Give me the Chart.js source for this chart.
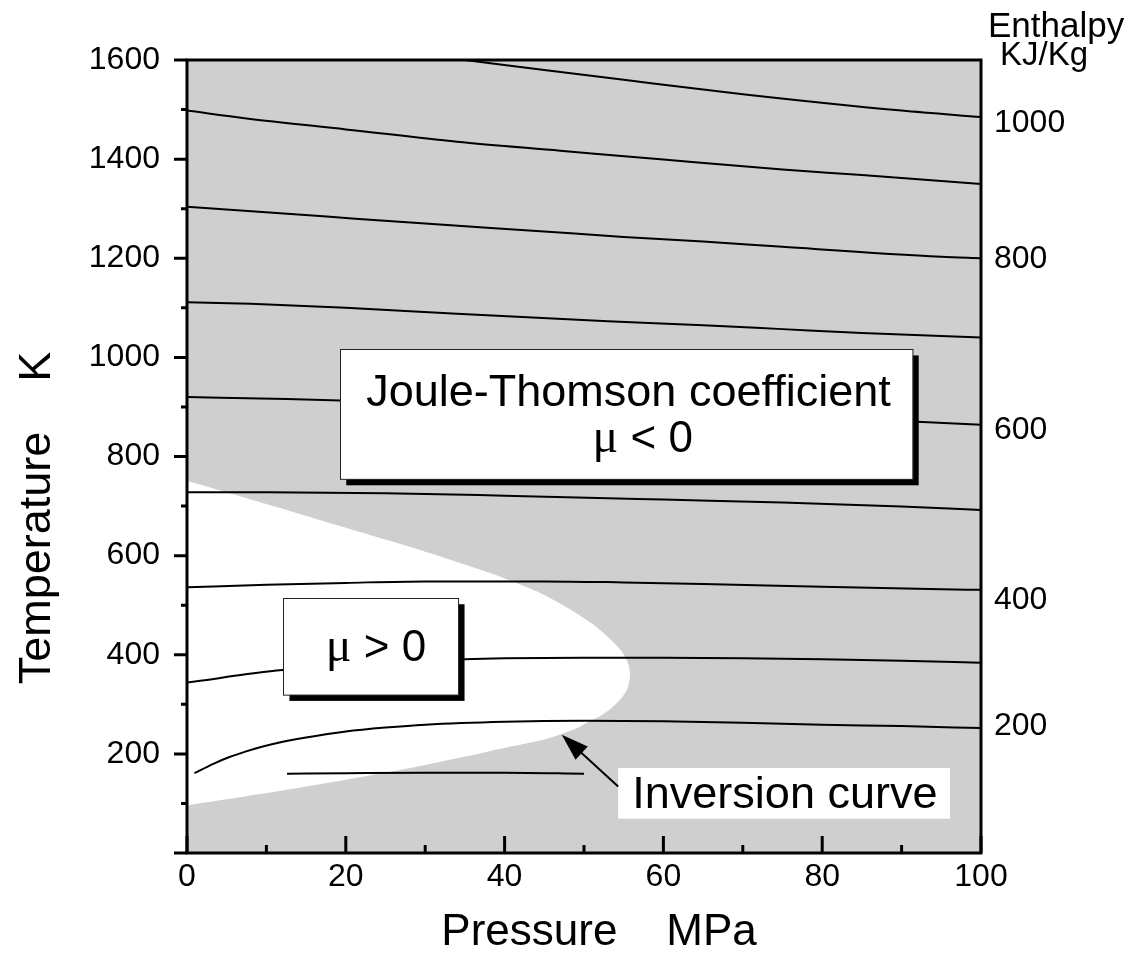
<!DOCTYPE html>
<html>
<head>
<meta charset="utf-8">
<script src="https://cdn.jsdelivr.net/npm/chart.js@4.4.1/dist/chart.umd.min.js"></script>
<style>
html,body{margin:0;padding:0;background:#fff}
#c{display:block}
</style>
</head>
<body>
<canvas id="c" width="1133" height="953"></canvas>
<script>
/* ── data ───────────────────────────────────── */
const FONT="'Liberation Sans', Arial, Helvetica, sans-serif";
const GREY='#cfcfcf';

const pressureRange=[0,100];
const tempRange=[0,1600];

// isenthalps [pressure MPa, temperature K]
const h100=[[12.6,160],[20,161],[30,162],[40,162],[50,160]];
const h200=[[0.94,161],[3.25,179.5],[5.35,193.6],[7.45,205],[9.55,215],[11.65,223],[15,233],[20,245],[25,253],[30,259],[40,265],[50,267],[60,266],[70,263],[80,259],[90,256],[100,252]];
const h300=[[0,344],[12,369],[25,383],[35,391],[40,393],[50,394],[60,394],[70,393],[80,391],[90,388],[100,384]];
const h400=[[0,536],[10,541],[20,545],[30,548],[45,548],[55,546],[65,543],[80,537],[95,532],[100,531]];
const h500=[[0,728],[10,728],[25,726],[40,721],[53,716],[60,713],[75,707],[90,699],[100,692]];
const h600=[[0,920],[12.6,916],[19.3,913],[40,900],[60,888],[80,876],[92,870],[100,864]];
const h700=[[0,1111],[8,1108],[20,1100],[34,1088],[53,1073],[65,1065],[75,1057],[85,1049],[100,1040]];
const h800=[[0,1304],[17.6,1284],[30,1270],[45,1254],[55,1243],[65,1234],[75,1223],[95,1203],[100,1200]];
const h900=[[0,1498],[7.5,1482],[20,1460],[34,1435],[47,1417],[60,1399],[75,1379],[85,1368],[100,1350]];
const h1000=[[35,1600],[45,1580],[55,1560],[70,1531],[90,1498],[100,1485]];

const isenthalps=[h100,h200,h300,h400,h500,h600,h700,h800,h900,h1000];
// right-hand labels, kJ/kg, and the temperature each one sits at
const enthalpyLabels=['200','400','600','800','1000'];
const enthalpyLabelTemps=[255,511,853,1198,1473];

// inversion curve (edge of the mu>0 region), top branch then bottom branch
const inversionUpper=[[0,751],[10,704],[20,656],[30,608],[38,566],[44,528],[48,494],[51,463],[53,436],[54.6,410],[55.5,385],[55.8,360]];
const inversionLower=[[0,96],[10,121],[20,148],[28,171],[34,191],[40,212],[45,229],[47,239],[49,251],[50.5,264],[52,276],[53.2,289],[54.6,310],[55.5,333]];

/* ── helpers ────────────────────────────────── */
const toXY=function(arr){return arr.map(function(p){return {x:p[0],y:p[1]}})};

function shadowBox(ctx,x0,y0,x1,y1){
  ctx.fillStyle='#000';
  ctx.fillRect(x0+6,y0+6,x1-x0,y1-y0);
  ctx.fillStyle='#fff';
  ctx.fillRect(x0,y0,x1-x0,y1-y0);
  ctx.strokeStyle='#222';ctx.lineWidth=1;
  ctx.strokeRect(Math.round(x0)+0.5,Math.round(y0)+0.5,x1-x0,y1-y0);
}

function muText(ctx,rest,cx,base,size){
  const serif=(size+4)+"px 'Liberation Serif', 'Times New Roman', serif";
  ctx.font=serif;
  const wm=ctx.measureText('\u03BC').width;
  ctx.font=size+'px '+FONT;
  const wr=ctx.measureText(rest).width;
  const x=cx-(wm+wr)/2;
  ctx.textAlign='left';ctx.textBaseline='alphabetic';ctx.fillStyle='#000';
  ctx.font=serif;
  ctx.fillText('\u03BC',x,base);
  ctx.font=size+'px '+FONT;
  ctx.fillText(rest,x+wm,base);
}

const deco={
  id:'deco',
  beforeDatasetsDraw(chart){
    const {ctx,chartArea:a}=chart;
    ctx.save();
    ctx.fillStyle=GREY;
    ctx.fillRect(a.left,a.top,a.right-a.left,a.bottom-a.top);
    ctx.restore();
  },
  afterDatasetsDraw(chart){
    const {ctx,chartArea:a}=chart;
    const xs=chart.scales.x, ys=chart.scales.y;
    const X=function(v){return xs.getPixelForValue(v)};
    const Y=function(v){return ys.getPixelForValue(v)};
    ctx.save();

    // label boxes
    shadowBox(ctx,X(19.3),Y(1016),X(91.4),Y(754));
    ctx.fillStyle='#000';ctx.textAlign='center';ctx.textBaseline='alphabetic';
    ctx.font='45px '+FONT;
    ctx.fillText('Joule-Thomson coefficient',X(55.6),Y(902));
    muText(ctx,' < 0',X(57.4),Y(810),44);

    shadowBox(ctx,X(12.15),Y(514),X(34.2),Y(319));
    muText(ctx,' > 0',X(23.8),Y(386.5),44);

    // inversion curve label + arrow
    ctx.fillStyle='#fff';
    ctx.fillRect(X(54.3),Y(171.4),X(96.1)-X(54.3),Y(69.2)-Y(171.4));
    ctx.fillStyle='#000';ctx.textAlign='center';
    ctx.font='45px '+FONT;
    ctx.fillText('Inversion curve',X(75.3),Y(90.8));

    const tx=X(54.3),ty=Y(134),hx=X(47.2),hy=Y(238.6);
    const ang=Math.atan2(hy-ty,hx-tx);
    ctx.strokeStyle='#000';ctx.lineWidth=2;
    ctx.beginPath();ctx.moveTo(tx,ty);ctx.lineTo(hx-18*Math.cos(ang),hy-18*Math.sin(ang));ctx.stroke();
    ctx.beginPath();
    ctx.moveTo(hx,hy);
    ctx.lineTo(hx-27*Math.cos(ang)+9*Math.sin(ang),hy-27*Math.sin(ang)-9*Math.cos(ang));
    ctx.lineTo(hx-27*Math.cos(ang)-9*Math.sin(ang),hy-27*Math.sin(ang)+9*Math.cos(ang));
    ctx.closePath();ctx.fill();

    // tick marks: y outward, x inward
    ctx.strokeStyle='#000';ctx.lineWidth=3;
    ctx.beginPath();
    for(let t=tempRange[0];t<=tempRange[1];t+=100){
      const len=(t%200===0)?13:6;
      ctx.moveTo(a.left,Y(t));ctx.lineTo(a.left-len,Y(t));
    }
    for(let p=pressureRange[0];p<=pressureRange[1];p+=10){
      const len=(p%20===0)?17:8;
      ctx.moveTo(X(p),a.bottom);ctx.lineTo(X(p),a.bottom-len);
    }
    ctx.stroke();
    // frame
    ctx.strokeRect(a.left,a.top,a.right-a.left,a.bottom-a.top);

    // axis titles
    ctx.fillStyle='#000';ctx.textBaseline='alphabetic';ctx.textAlign='center';
    ctx.font='44px '+FONT;
    ctx.fillText('Pressure    MPa',a.left+412,945);
    ctx.save();
    ctx.translate(50,518);ctx.rotate(-Math.PI/2);
    ctx.font='45px '+FONT;
    ctx.fillText('Temperature    K',0,0);
    ctx.restore();

    // right axis heading
    ctx.textAlign='left';
    ctx.font='35px '+FONT;
    ctx.fillText('Enthalpy',a.right+7,37);
    ctx.font='33px '+FONT;
    ctx.fillText('KJ/Kg',a.right+19,65);
    ctx.restore();
  }
};

/* ── chart ──────────────────────────────────── */
const datasets=isenthalps.map(function(line){
  return {data:toXY(line),showLine:true,borderColor:'#000',borderWidth:2,pointRadius:0,
    tension:0.4,cubicInterpolationMode:'monotone',fill:false,order:0};
});
datasets.push({
  data:toXY(inversionUpper.concat(inversionLower.slice().reverse())),
  showLine:true,borderWidth:0,borderColor:'rgba(0,0,0,0)',backgroundColor:'#fff',
  pointRadius:0,tension:0.25,fill:'shape',order:5
});

const tickFont={family:FONT,size:32};

new Chart(document.getElementById('c'),{
  type:'scatter',
  data:{datasets:datasets},
  plugins:[deco],
  options:{
    responsive:false,animation:false,devicePixelRatio:1,
    layout:{padding:{top:60,left:0,right:0,bottom:0}},
    plugins:{legend:{display:false},tooltip:{enabled:false}},
    scales:{
      x:{
        type:'linear',min:pressureRange[0],max:pressureRange[1],
        grid:{display:false,drawTicks:false},border:{display:false},
        ticks:{stepSize:20,color:'#000',font:tickFont,padding:5,maxRotation:0},
        afterFit:function(s){s.height=100}
      },
      y:{
        type:'linear',min:tempRange[0],max:tempRange[1],
        grid:{display:false,drawTicks:false},border:{display:false},
        ticks:{stepSize:200,color:'#000',font:tickFont,padding:27,
          callback:function(v){return v===0?null:v}},
        afterFit:function(s){s.width=187}
      },
      y2:{
        type:'linear',position:'right',min:tempRange[0],max:tempRange[1],
        grid:{display:false,drawTicks:false},border:{display:false},
        afterBuildTicks:function(s){
          s.ticks=enthalpyLabelTemps.map(function(t){return {value:t}});
        },
        ticks:{autoSkip:false,color:'#000',font:tickFont,padding:13,
          callback:function(v,i){return enthalpyLabels[i]}},
        afterFit:function(s){s.width=152}
      }
    }
  }
});
</script>
</body>
</html>
